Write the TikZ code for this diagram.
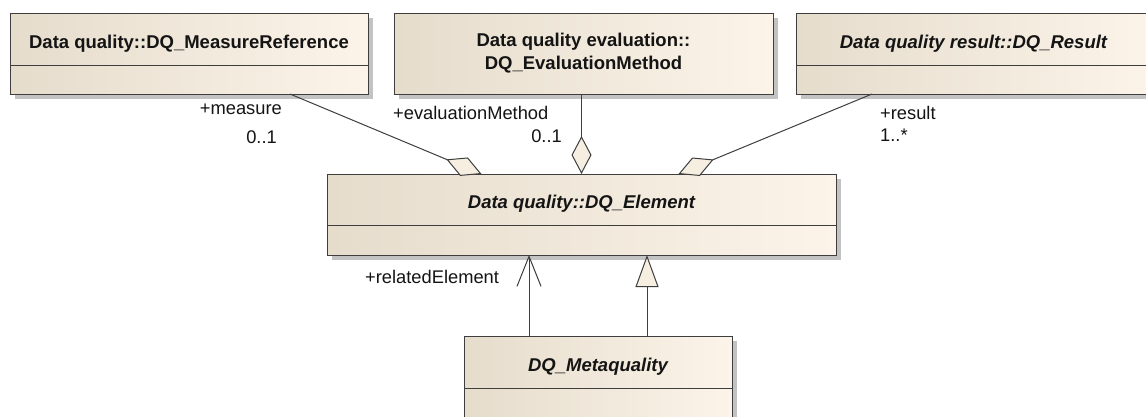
\documentclass[tikz,border=0pt]{standalone}
\usepackage{fontspec}
\setmainfont{Liberation Sans}
\usetikzlibrary{arrows.meta,shadows}

\definecolor{boxleft}{RGB}{229,220,204}
\definecolor{boxright}{RGB}{252,244,233}
\definecolor{shadowgrey}{RGB}{195,195,195}
\definecolor{linegrey}{RGB}{62,62,62}
\definecolor{tipfill}{RGB}{246,238,224}
\definecolor{textblack}{RGB}{20,20,20}

\newcommand{\titlefont}{\fontsize{18.5}{23}\selectfont\bfseries}
\newcommand{\rolefont}{\fontsize{18.3}{22}\selectfont}

\begin{document}
\begin{tikzpicture}[x=1pt, y=-1pt,
		class_style/.style={rectangle, draw=linegrey, line width=1pt, left color=boxleft, right color=boxright,
			inner sep=0pt, outer sep=0pt, minimum height=81pt,
			drop shadow={shadow xshift=5pt, shadow yshift=-5pt, fill=shadowgrey, opacity=1}},
		name_style/.style={rectangle, draw=linegrey, line width=1pt, inner sep=0pt, outer sep=0pt,
			minimum height=52pt, text height=18pt, text depth=0pt, anchor=north, font=\titlefont, text=textblack},
		abstract_style/.style={name_style, font=\titlefont\itshape},
		role_style/.style={inner sep=0pt, font=\rolefont, text=textblack},
		edge_style/.style={draw=linegrey, line width=1pt},
		aggr_style/.style={edge_style, {Diamond[length=38pt, width=20pt, fill=tipfill]}-},
		nav_style/.style={edge_style, -{Straight Barb[length=30pt, width=24pt]}},
		gen_style/.style={edge_style, -{Triangle[length=32pt, width=23pt, fill=tipfill]}}]

	\path[use as bounding box, fill=white] (0,0) rectangle (1146,416);
	\clip (0,0) rectangle (1146,416);

	% classes
	\node[class_style, minimum width=358pt] (mref) at (189,53.5) {};
	\node[name_style, minimum width=358pt] (mref_name) at (mref.north) {Data quality::DQ\_MeasureReference};

	\node[class_style, minimum width=379pt] (evalm) at (583.5,53.5) {};
	\node[name_style, minimum width=379pt, minimum height=81pt, text height=, text depth=, align=center] (evalm_name) at (evalm.north) {Data quality evaluation::\\DQ\_EvaluationMethod};

	\node[class_style, minimum width=355pt] (result) at (973.5,53.5) {};
	\node[abstract_style, minimum width=355pt] (result_name) at (result.north) {Data quality result::DQ\_Result};

	\node[class_style, minimum width=509pt] (element) at (581.5,214.5) {};
	\node[abstract_style, minimum width=509pt, minimum height=51pt] (element_name) at (element.north) {Data quality::DQ\_Element};

	\node[class_style, minimum width=268pt, minimum height=95pt] (meta) at (598,383.5) {};
	\node[abstract_style, minimum width=268pt] (meta_name) at (meta.north) {DQ\_Metaquality};

	% associations
	\draw[aggr_style] ([xshift=-100pt]element.north) -- ([xshift=-78pt]mref.south east);
	\draw[aggr_style] (element.north) -- (element.north |- evalm.south);
	\draw[aggr_style] ([xshift=97pt]element.north) -- ([xshift=76pt]result.south west);
	\draw[nav_style] ([xshift=-69pt]meta.north) -- ([xshift=-52.5pt]element.south);
	\draw[gen_style] ([xshift=49pt]meta.north) -- ([xshift=65.5pt]element.south);

	% role names and multiplicities
	\node[role_style, anchor=east] (measure_role) at (282,109) {+measure};
	\node[role_style, anchor=east] (measure_mult) at (277,137) {0..1};
	\node[role_style, anchor=west] (evalm_role) at (393,113) {+evaluationMethod};
	\node[role_style, anchor=east] (evalm_mult) at (562,136) {0..1};
	\node[role_style, anchor=west] (result_role) at (880,113) {+result};
	\node[role_style, anchor=west] (result_mult) at (880,135) {1..*};
	\node[role_style, anchor=west] (related_role) at (365,277) {+relatedElement};

\end{tikzpicture}
\end{document}
